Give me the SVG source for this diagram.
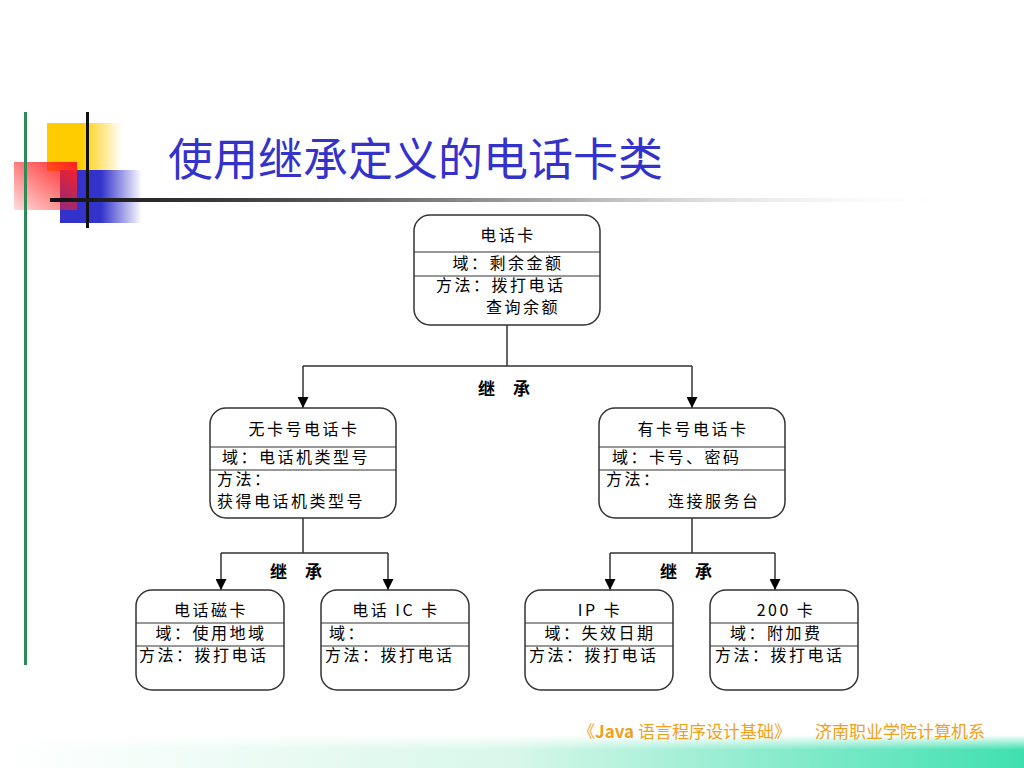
<svg xmlns="http://www.w3.org/2000/svg" width="1024" height="768" viewBox="0 0 1024 768">
<defs>
<linearGradient id="gYel" x1="0" y1="0" x2="1" y2="0"><stop offset="0" stop-color="#ffcc00"/><stop offset="0.45" stop-color="#ffcc00"/><stop offset="1" stop-color="#ffcc00" stop-opacity="0"/></linearGradient>
<linearGradient id="gBlue" x1="0" y1="0" x2="1" y2="0"><stop offset="0" stop-color="#3333cc"/><stop offset="0.5" stop-color="#3333cc"/><stop offset="1" stop-color="#3333cc" stop-opacity="0"/></linearGradient>
<linearGradient id="gRed" x1="1" y1="0" x2="0" y2="1"><stop offset="0" stop-color="#ff2020"/><stop offset="1" stop-color="#ff2020" stop-opacity="0.15"/></linearGradient>
<linearGradient id="gLine" x1="0" y1="0" x2="1" y2="0"><stop offset="0" stop-color="#111"/><stop offset="0.3" stop-color="#555"/><stop offset="0.65" stop-color="#ccc"/><stop offset="1" stop-color="#fff" stop-opacity="0"/></linearGradient>
<linearGradient id="gBand" x1="0" y1="0" x2="1" y2="0"><stop offset="0" stop-color="#ffffff"/><stop offset="0.5" stop-color="#d8f7ea"/><stop offset="1" stop-color="#3fe0b0"/></linearGradient>
<linearGradient id="gFade" x1="0" y1="0" x2="0" y2="1"><stop offset="0" stop-color="#fff" stop-opacity="1"/><stop offset="0.45" stop-color="#fff" stop-opacity="0"/></linearGradient>
<marker id="arr" viewBox="0 0 10 10" refX="10" refY="5" markerWidth="11" markerHeight="11" markerUnits="userSpaceOnUse" orient="auto"><path d="M0,0 L10,5 L0,10 z" fill="#000"/></marker>
</defs>
<style>
.box{fill:#fff;stroke:#333;stroke-width:1.5}
.div{stroke:#333;stroke-width:1.2}
.t{font-family:"Noto Sans CJK SC","Liberation Sans",sans-serif;font-size:16px;letter-spacing:2.5px;fill:#000}
.c{text-anchor:middle}
.lbl{font-family:"Noto Sans CJK SC",sans-serif;font-size:17px;font-weight:bold;fill:#000}
.conn{fill:none;stroke:#333;stroke-width:1.5}
.foot{font-family:"Noto Sans CJK SC","Liberation Sans",sans-serif;font-size:17px;fill:#f0a020}
</style>
<rect width="1024" height="768" fill="#fff"/>
<g id="decor">
<rect x="47" y="123" width="75" height="48" fill="url(#gYel)"/>
<rect x="60" y="170" width="82" height="53" fill="url(#gBlue)"/>
<rect x="14" y="162" width="63" height="48" fill="url(#gRed)"/>
<rect x="24" y="112" width="3" height="553" fill="#2e8b57"/>
<rect x="86" y="112" width="3" height="116" fill="#111"/>
<rect x="50" y="198" width="915" height="4" fill="url(#gLine)"/>
<rect x="0" y="735" width="1024" height="33" fill="url(#gBand)"/>
<rect x="0" y="735" width="1024" height="33" fill="url(#gFade)"/>
</g>
<text x="168" y="176" font-family="Noto Sans CJK SC,sans-serif" font-size="45" fill="#3333cc">使用继承定义的电话卡类</text>
<g id="connectors">
<path class="conn" d="M507,325 V366 M303,366 H692"/>
<path class="conn" d="M303,366 V408" marker-end="url(#arr)"/>
<path class="conn" d="M692,366 V408" marker-end="url(#arr)"/>
<path class="conn" d="M303,518 V553 M221,553 H388"/>
<path class="conn" d="M221,553 V590" marker-end="url(#arr)"/>
<path class="conn" d="M388,553 V590" marker-end="url(#arr)"/>
<path class="conn" d="M692,518 V553 M610,553 H775"/>
<path class="conn" d="M610,553 V590" marker-end="url(#arr)"/>
<path class="conn" d="M775,553 V590" marker-end="url(#arr)"/>
<text class="lbl" y="395"><tspan x="478">继</tspan><tspan x="513">承</tspan></text>
<text class="lbl" y="578"><tspan x="270">继</tspan><tspan x="305">承</tspan></text>
<text class="lbl" y="578"><tspan x="660">继</tspan><tspan x="695">承</tspan></text>
</g>
<g id="n-root">
<rect class="box" x="414" y="215" width="186" height="110" rx="16"/>
<line class="div" x1="414" y1="252" x2="600" y2="252"/>
<line class="div" x1="414" y1="276" x2="600" y2="276"/>
<text class="t c" x="508" y="241">电话卡</text>
<text class="t c" x="508" y="269">域：剩余金额</text>
<text class="t" x="436" y="291">方法：拨打电话</text>
<text class="t" x="486" y="313">查询余额</text>
</g>
<g id="n-nocard">
<rect class="box" x="210" y="408" width="186" height="110" rx="16"/>
<line class="div" x1="210" y1="447" x2="396" y2="447"/>
<line class="div" x1="210" y1="470" x2="396" y2="470"/>
<text class="t c" x="304" y="435">无卡号电话卡</text>
<text class="t" x="222" y="463">域：电话机类型号</text>
<text class="t" x="217" y="485">方法：</text>
<text class="t" x="217" y="507">获得电话机类型号</text>
</g>
<g id="n-card">
<rect class="box" x="599" y="408" width="186" height="110" rx="16"/>
<line class="div" x1="599" y1="447" x2="785" y2="447"/>
<line class="div" x1="599" y1="470" x2="785" y2="470"/>
<text class="t c" x="693" y="435">有卡号电话卡</text>
<text class="t" x="612" y="463">域：卡号、密码</text>
<text class="t" x="606" y="485">方法：</text>
<text class="t" x="668" y="507">连接服务台</text>
</g>
<g id="n-mag">
<rect class="box" x="136" y="590" width="148" height="100" rx="16"/>
<line class="div" x1="136" y1="623" x2="284" y2="623"/>
<line class="div" x1="136" y1="646" x2="284" y2="646"/>
<text class="t c" x="211" y="616">电话磁卡</text>
<text class="t c" x="211" y="639">域：使用地域</text>
<text class="t" x="139" y="661">方法：拨打电话</text>
</g>
<g id="n-ic">
<rect class="box" x="321" y="590" width="148" height="100" rx="16"/>
<line class="div" x1="321" y1="623" x2="469" y2="623"/>
<line class="div" x1="321" y1="646" x2="469" y2="646"/>
<text class="t c" x="396" y="616">电话 IC 卡</text>
<text class="t" x="329" y="639">域：</text>
<text class="t" x="325" y="661">方法：拨打电话</text>
</g>
<g id="n-ip">
<rect class="box" x="525" y="590" width="148" height="100" rx="16"/>
<line class="div" x1="525" y1="623" x2="673" y2="623"/>
<line class="div" x1="525" y1="646" x2="673" y2="646"/>
<text class="t c" x="600" y="616">IP 卡</text>
<text class="t c" x="600" y="639">域：失效日期</text>
<text class="t" x="529" y="661">方法：拨打电话</text>
</g>
<g id="n-200">
<rect class="box" x="710" y="590" width="148" height="100" rx="16"/>
<line class="div" x1="710" y1="623" x2="858" y2="623"/>
<line class="div" x1="710" y1="646" x2="858" y2="646"/>
<text class="t c" x="786" y="616">200 卡</text>
<text class="t" x="730" y="639">域：附加费</text>
<text class="t" x="715" y="661">方法：拨打电话</text>
</g>
<text class="foot" x="578" y="738">《<tspan font-weight="bold">Java</tspan> 语言程序设计基础》</text>
<text class="foot" x="815" y="738">济南职业学院计算机系</text>
</svg>
